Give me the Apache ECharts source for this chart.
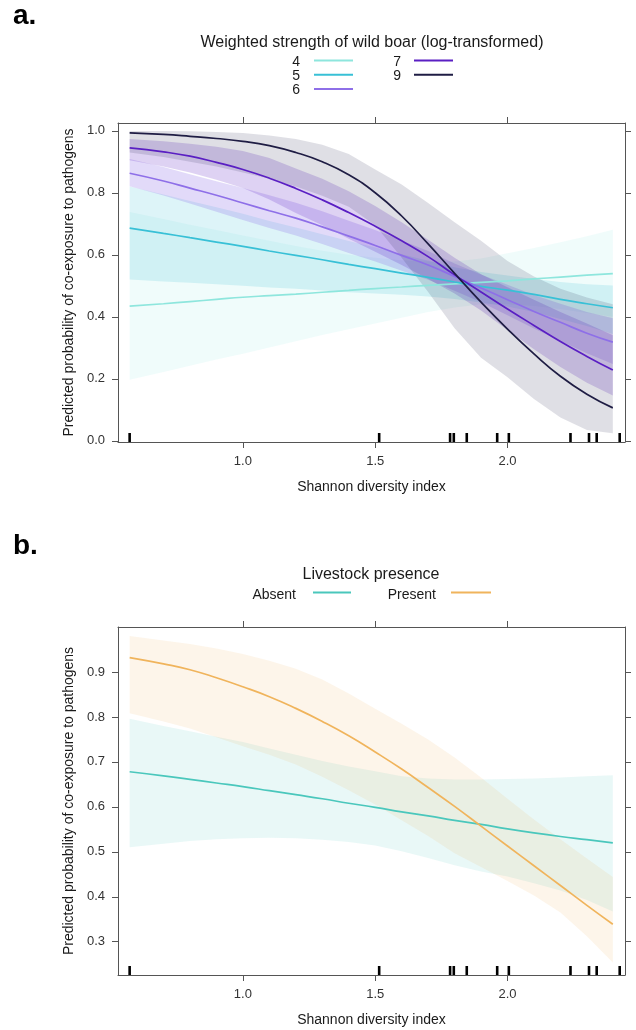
<!DOCTYPE html>
<html>
<head>
<meta charset="utf-8">
<script src="https://cdn.jsdelivr.net/npm/echarts@6/dist/echarts.min.js"></script>
<style>
  html, body { margin: 0; padding: 0; background: #fff; }
  #chart { width: 636px; height: 1030px; }
</style>
</head>
<body>
<div id="chart"></div>
<script>
// x grid of the fitted curves (Shannon diversity index)
const shannon = [0.572, 0.7, 0.8, 0.9, 1.0, 1.1, 1.2, 1.3, 1.4, 1.5, 1.6, 1.7, 1.8, 1.9, 2.0, 2.1, 2.2, 2.3, 2.398];
// observed sites (rug)
const rugValues = [0.572, 1.515, 1.783, 1.797, 1.846, 1.961, 2.005, 2.238, 2.308, 2.337, 2.424];

const xTicks = [1.0, 1.5, 2.0];
const yTicksA = [0.0, 0.2, 0.4, 0.6, 0.8, 1.0];
const yTicksB = [0.3, 0.4, 0.5, 0.6, 0.7, 0.8, 0.9];

// panel a: weighted strength of wild boar = 4, 5, 6, 7, 9
const fit4 = [0.434, 0.442, 0.449, 0.456, 0.463, 0.468, 0.473, 0.479, 0.485, 0.491, 0.496, 0.501, 0.506, 0.511, 0.516, 0.522, 0.528, 0.534, 0.539];
const lo4  = [0.197, 0.222, 0.242, 0.262, 0.281, 0.301, 0.321, 0.341, 0.360, 0.378, 0.397, 0.415, 0.430, 0.440, 0.440, 0.435, 0.425, 0.412, 0.400];
const hi4  = [0.738, 0.715, 0.697, 0.680, 0.662, 0.645, 0.628, 0.613, 0.600, 0.590, 0.582, 0.578, 0.578, 0.588, 0.605, 0.622, 0.640, 0.660, 0.681];

const fit5 = [0.686, 0.669, 0.655, 0.641, 0.627, 0.612, 0.598, 0.584, 0.569, 0.555, 0.541, 0.527, 0.512, 0.498, 0.486, 0.472, 0.456, 0.442, 0.429];
const lo5  = [0.520, 0.514, 0.510, 0.505, 0.500, 0.494, 0.490, 0.485, 0.479, 0.475, 0.471, 0.465, 0.457, 0.446, 0.433, 0.415, 0.393, 0.370, 0.344];
const hi5  = [0.820, 0.794, 0.773, 0.753, 0.732, 0.709, 0.688, 0.666, 0.644, 0.623, 0.602, 0.581, 0.560, 0.544, 0.533, 0.522, 0.512, 0.505, 0.501];

const fit6 = [0.863, 0.838, 0.815, 0.792, 0.767, 0.742, 0.718, 0.690, 0.660, 0.630, 0.598, 0.567, 0.530, 0.493, 0.455, 0.417, 0.382, 0.347, 0.318];
const lo6  = [0.821, 0.791, 0.765, 0.739, 0.712, 0.686, 0.662, 0.635, 0.606, 0.578, 0.548, 0.519, 0.484, 0.447, 0.405, 0.362, 0.322, 0.282, 0.248];
const hi6  = [0.909, 0.883, 0.860, 0.837, 0.815, 0.792, 0.768, 0.740, 0.710, 0.680, 0.646, 0.612, 0.572, 0.536, 0.503, 0.470, 0.442, 0.415, 0.395];

const fit7 = [0.945, 0.932, 0.918, 0.898, 0.875, 0.847, 0.814, 0.777, 0.736, 0.692, 0.645, 0.594, 0.535, 0.480, 0.425, 0.372, 0.320, 0.272, 0.228];
const lo7  = [0.905, 0.885, 0.865, 0.842, 0.815, 0.778, 0.735, 0.695, 0.652, 0.610, 0.567, 0.522, 0.475, 0.420, 0.357, 0.295, 0.238, 0.187, 0.146];
const hi7  = [0.973, 0.966, 0.958, 0.948, 0.935, 0.912, 0.878, 0.845, 0.805, 0.757, 0.705, 0.648, 0.590, 0.537, 0.495, 0.455, 0.415, 0.378, 0.340];

const fit9 = [0.993, 0.988, 0.982, 0.975, 0.966, 0.952, 0.930, 0.900, 0.858, 0.800, 0.725, 0.635, 0.540, 0.447, 0.360, 0.280, 0.208, 0.150, 0.106];
const lo9  = [0.930, 0.915, 0.900, 0.885, 0.865, 0.845, 0.820, 0.790, 0.755, 0.695, 0.590, 0.480, 0.363, 0.268, 0.205, 0.135, 0.075, 0.035, 0.024];
const hi9  = [0.9995, 0.999, 0.998, 0.996, 0.993, 0.985, 0.973, 0.955, 0.925, 0.875, 0.827, 0.767, 0.705, 0.645, 0.580, 0.530, 0.490, 0.462, 0.440];

// panel b: livestock presence
const fitAbsent  = [0.678, 0.669, 0.661, 0.653, 0.645, 0.636, 0.627, 0.618, 0.608, 0.599, 0.589, 0.580, 0.570, 0.561, 0.551, 0.542, 0.534, 0.527, 0.520];
const loAbsent   = [0.510, 0.518, 0.524, 0.528, 0.530, 0.531, 0.530, 0.527, 0.522, 0.514, 0.501, 0.486, 0.470, 0.456, 0.445, 0.430, 0.414, 0.393, 0.367];
const hiAbsent   = [0.796, 0.780, 0.768, 0.756, 0.744, 0.730, 0.716, 0.702, 0.690, 0.679, 0.668, 0.663, 0.661, 0.661, 0.662, 0.663, 0.665, 0.668, 0.670];
const fitPresent = [0.932, 0.918, 0.905, 0.887, 0.867, 0.845, 0.819, 0.790, 0.758, 0.722, 0.684, 0.643, 0.601, 0.557, 0.513, 0.469, 0.425, 0.381, 0.339];
const loPresent  = [0.808, 0.790, 0.774, 0.755, 0.735, 0.716, 0.694, 0.667, 0.637, 0.605, 0.570, 0.535, 0.497, 0.466, 0.435, 0.403, 0.365, 0.312, 0.254];
const hiPresent  = [0.980, 0.970, 0.962, 0.952, 0.940, 0.925, 0.907, 0.883, 0.852, 0.818, 0.785, 0.750, 0.710, 0.665, 0.618, 0.572, 0.528, 0.485, 0.444];

const FONT = '"Liberation Sans", Arial, sans-serif';
const AXIS_COLOR = '#555';
const colors = { c4: '#8ee6dd', c5: '#38c0d6', c6: '#8e6fe8', c7: '#5a1fc3', c9: '#1f1d44', absent: '#4ac7bc', present: '#f0b45c' };

const xMin = 0.528, xMax = 2.444;
const yMinA = -0.004, yMaxA = 1.025;
const yMinB = 0.226, yMaxB = 1.0;

const chart = echarts.init(document.getElementById('chart'));

function axis(gridIndex, position, min, max, ticks, labels, extra) {
    return Object.assign({
        type: 'value',
        gridIndex: gridIndex,
        position: position,
        min: min,
        max: max,
        axisLine: { show: true, onZero: false, lineStyle: { color: AXIS_COLOR, width: 1 } },
        axisTick: { show: true, inside: false, length: 6, customValues: ticks, lineStyle: { color: AXIS_COLOR } },
        axisLabel: {
            show: labels,
            customValues: ticks,
            formatter: function (v) { return v.toFixed(1); },
            color: '#333',
            fontSize: 13,
            fontFamily: FONT,
            margin: 13
        },
        splitLine: { show: false }
    }, extra || {});
}

const xName = {
    name: 'Shannon diversity index',
    nameLocation: 'middle',
    nameGap: 38,
    nameTextStyle: { color: '#1a1a1a', fontSize: 14, fontFamily: FONT }
};
const yName = {
    name: 'Predicted probability of co-exposure to pathogens',
    nameLocation: 'middle',
    nameGap: 42,
    nameTextStyle: { color: '#1a1a1a', fontSize: 14, fontFamily: FONT }
};

// confidence band as a polygon through the axes' own coordinates
function band(xi, yi, lower, upper, color, opacity) {
    return {
        type: 'custom',
        xAxisIndex: xi,
        yAxisIndex: yi,
        silent: true,
        z: 1,
        data: [[shannon[0], lower[0]]],
        renderItem: function (params, api) {
            const pts = [];
            for (let i = 0; i < shannon.length; i++) pts.push(api.coord([shannon[i], upper[i]]));
            for (let i = shannon.length - 1; i >= 0; i--) pts.push(api.coord([shannon[i], lower[i]]));
            return { type: 'polygon', shape: { points: pts }, style: { fill: color, opacity: opacity } };
        }
    };
}

function fitLine(xi, yi, values, color) {
    return {
        type: 'line',
        xAxisIndex: xi,
        yAxisIndex: yi,
        data: shannon.map(function (x, i) { return [x, values[i]]; }),
        smooth: 0.5,
        symbol: 'none',
        silent: true,
        z: 3,
        lineStyle: { color: color, width: 1.7 }
    };
}

function rug(xi, yi, yBase) {
    return {
        type: 'scatter',
        xAxisIndex: xi,
        yAxisIndex: yi,
        data: rugValues.map(function (v) { return [v, yBase]; }),
        symbol: 'rect',
        symbolSize: [2.6, 9],
        symbolOffset: [0, -4.5],
        itemStyle: { color: '#000', opacity: 1 },
        silent: true,
        clip: false,
        z: 4
    };
}

function legendText(x, y, text, size, align) {
    return {
        type: 'text', x: x, y: y, silent: true,
        style: {
            text: text, font: size + 'px ' + FONT, fill: '#1a1a1a',
            align: align, textAlign: align, verticalAlign: 'middle', textVerticalAlign: 'middle'
        }
    };
}
function legendLine(x1, x2, y, color) {
    return { type: 'line', silent: true, shape: { x1: x1, y1: y, x2: x2, y2: y }, style: { stroke: color, lineWidth: 2 } };
}

const option = {
    animation: false,
    backgroundColor: '#fff',
    grid: [
        { left: 118, top: 123, width: 507, height: 319 },
        { left: 118, top: 627, width: 507, height: 348 }
    ],
    xAxis: [
        axis(0, 'bottom', xMin, xMax, xTicks, true, xName),
        axis(0, 'top', xMin, xMax, xTicks, false),
        axis(1, 'bottom', xMin, xMax, xTicks, true, xName),
        axis(1, 'top', xMin, xMax, xTicks, false)
    ],
    yAxis: [
        axis(0, 'left', yMinA, yMaxA, yTicksA, true, yName),
        axis(0, 'right', yMinA, yMaxA, yTicksA, false),
        axis(1, 'left', yMinB, yMaxB, yTicksB, true, yName),
        axis(1, 'right', yMinB, yMaxB, yTicksB, false)
    ],
    graphic: [
        { type: 'text', x: 13, y: 16, silent: true, style: { text: 'a.', font: 'bold 28px ' + FONT, fill: '#000', align: 'left', textAlign: 'left', verticalAlign: 'middle', textVerticalAlign: 'middle' } },
        { type: 'text', x: 13, y: 546, silent: true, style: { text: 'b.', font: 'bold 28px ' + FONT, fill: '#000', align: 'left', textAlign: 'left', verticalAlign: 'middle', textVerticalAlign: 'middle' } },

        legendText(372, 43, 'Weighted strength of wild boar (log-transformed)', 16, 'center'),
        legendText(300, 62, '4', 14, 'right'),
        legendText(300, 76, '5', 14, 'right'),
        legendText(300, 90, '6', 14, 'right'),
        legendText(401, 62, '7', 14, 'right'),
        legendText(401, 76, '9', 14, 'right'),
        legendLine(314, 353, 60.5, colors.c4),
        legendLine(314, 353, 74.8, colors.c5),
        legendLine(314, 353, 89, colors.c6),
        legendLine(414, 453, 60.5, colors.c7),
        legendLine(414, 453, 74.8, colors.c9),

        legendText(371, 575, 'Livestock presence', 16, 'center'),
        legendText(296, 595, 'Absent', 14, 'right'),
        legendText(436, 595, 'Present', 14, 'right'),
        legendLine(313, 351, 592.5, colors.absent),
        legendLine(451, 491, 592.5, colors.present)
    ],
    series: [
        band(0, 0, lo4, hi4, colors.c4, 0.13),
        band(0, 0, lo5, hi5, colors.c5, 0.17),
        band(0, 0, lo6, hi6, colors.c6, 0.26),
        band(0, 0, lo7, hi7, colors.c7, 0.2),
        band(0, 0, lo9, hi9, colors.c9, 0.14),
        fitLine(0, 0, fit4, colors.c4),
        fitLine(0, 0, fit5, colors.c5),
        fitLine(0, 0, fit6, colors.c6),
        fitLine(0, 0, fit7, colors.c7),
        fitLine(0, 0, fit9, colors.c9),
        rug(0, 0, yMinA),

        band(2, 2, loAbsent, hiAbsent, colors.absent, 0.12),
        band(2, 2, loPresent, hiPresent, colors.present, 0.13),
        fitLine(2, 2, fitAbsent, colors.absent),
        fitLine(2, 2, fitPresent, colors.present),
        rug(2, 2, yMinB)
    ]
};

chart.setOption(option);
window.addEventListener('resize', function () {
    chart.resize();
});
</script>
</body>
</html>
